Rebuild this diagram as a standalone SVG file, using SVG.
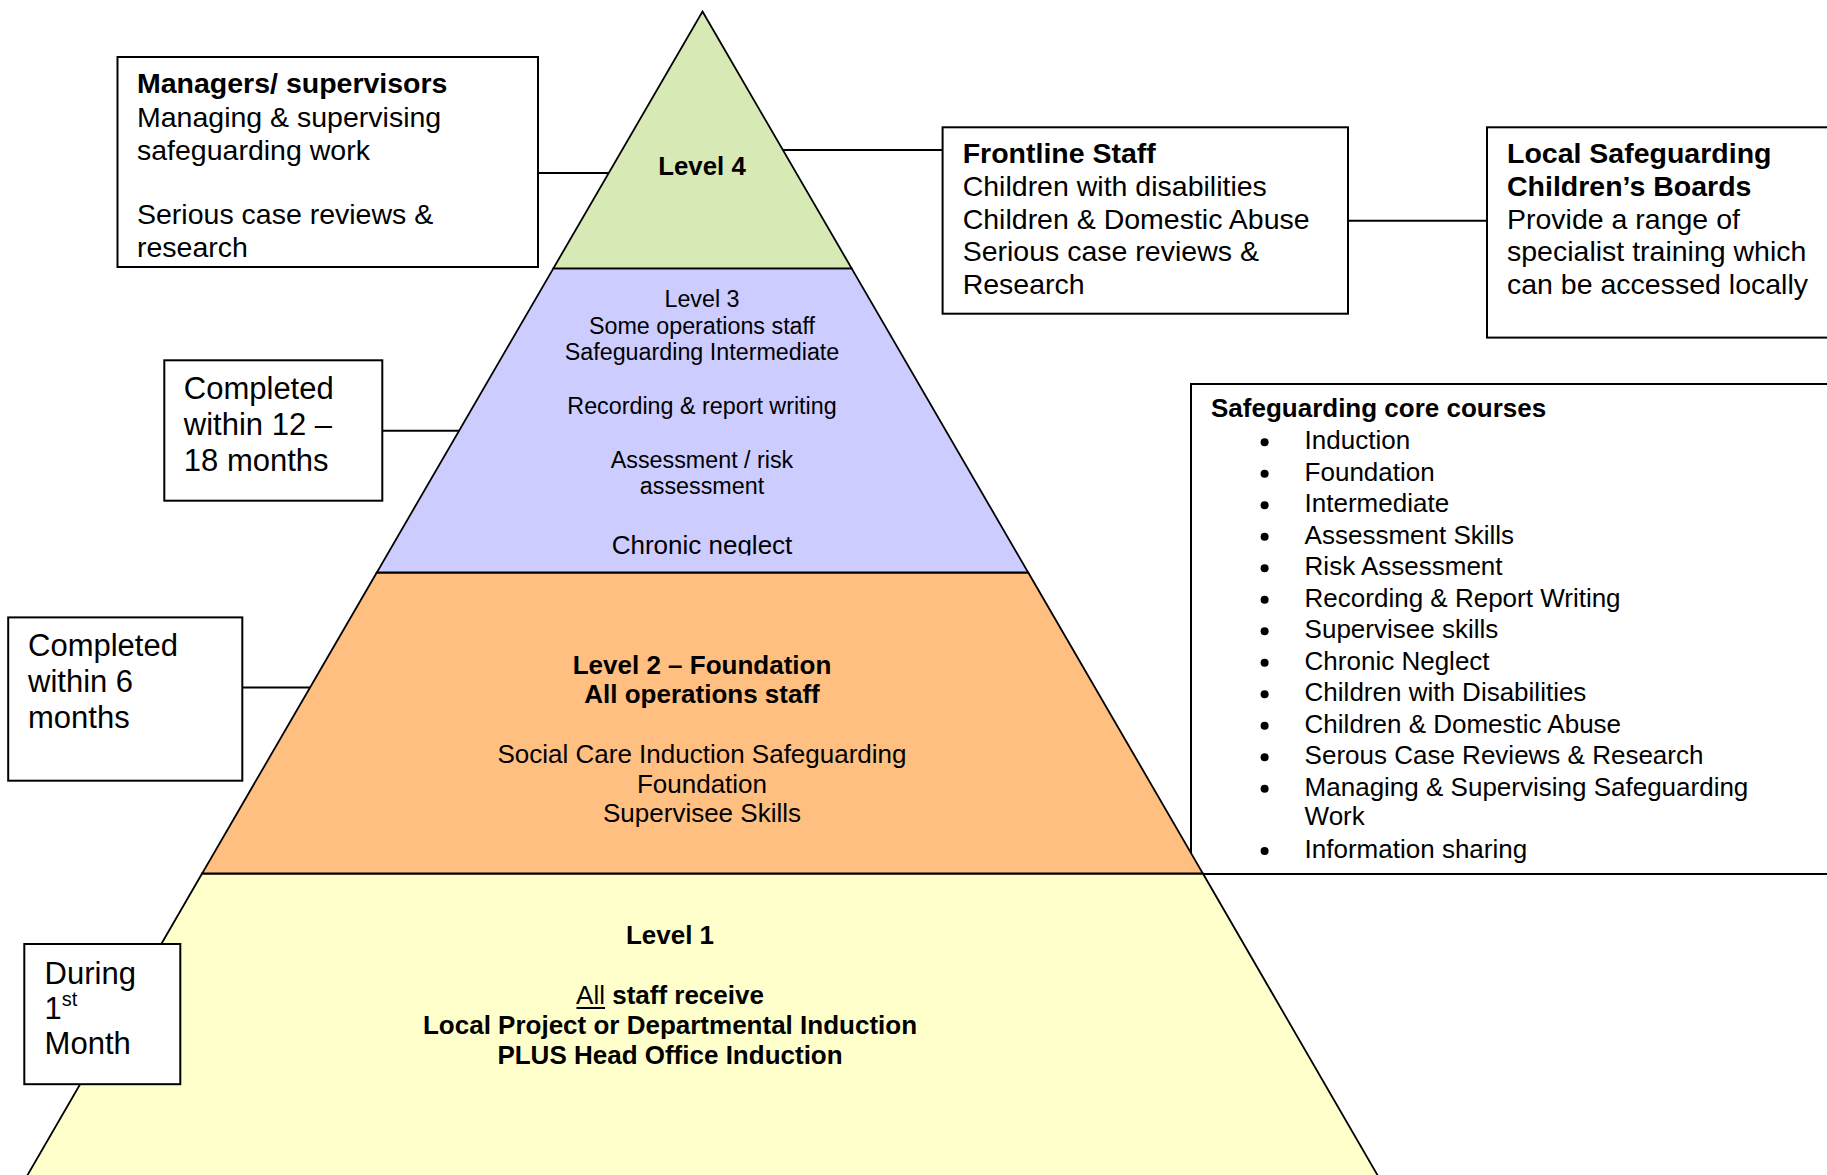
<svg xmlns="http://www.w3.org/2000/svg" width="1827" height="1175" viewBox="0 0 1827 1175">
<style>
text{font-family:"Liberation Sans",Arial,sans-serif;fill:#000}
.b{font-weight:bold}
.f28{font-size:28.5px}
.f31{font-size:31px}
.f26{font-size:26px}
.f23{font-size:23.3px}
.box{fill:#fff;stroke:#000;stroke-width:2}
.edge{stroke:#000;stroke-width:1.8;stroke-linejoin:miter}
.conn{stroke:#000;stroke-width:2;fill:none}
.mid{text-anchor:middle}
</style>
<defs>
<clipPath id="clipMgr"><rect x="117" y="57" width="421" height="202"/></clipPath>
<clipPath id="clipL3"><rect x="370" y="268" width="660" height="287.5"/></clipPath>
</defs>
<rect width="1827" height="1175" fill="#fff"/>

<g id="core-courses-box">
<rect class="box" x="1191" y="384" width="660" height="490"/>
<text class="f26 b" x="1211" y="416.7">Safeguarding core courses</text>
<g fill="#000">
<circle cx="1264.6" cy="442.3" r="4"/>
<circle cx="1264.6" cy="473.8" r="4"/>
<circle cx="1264.6" cy="505.3" r="4"/>
<circle cx="1264.6" cy="536.8" r="4"/>
<circle cx="1264.6" cy="568.3" r="4"/>
<circle cx="1264.6" cy="599.8" r="4"/>
<circle cx="1264.6" cy="631.3" r="4"/>
<circle cx="1264.6" cy="662.8" r="4"/>
<circle cx="1264.6" cy="694.3" r="4"/>
<circle cx="1264.6" cy="725.8" r="4"/>
<circle cx="1264.6" cy="757.3" r="4"/>
<circle cx="1264.6" cy="788.8" r="4"/>
<circle cx="1264.6" cy="851" r="4"/>
</g>
<text class="f26" x="1304.6" y="449.3">Induction</text>
<text class="f26" x="1304.6" y="480.8">Foundation</text>
<text class="f26" x="1304.6" y="512.3">Intermediate</text>
<text class="f26" x="1304.6" y="543.8">Assessment Skills</text>
<text class="f26" x="1304.6" y="575.3">Risk Assessment</text>
<text class="f26" x="1304.6" y="606.8">Recording &amp; Report Writing</text>
<text class="f26" x="1304.6" y="638.3">Supervisee skills</text>
<text class="f26" x="1304.6" y="669.8">Chronic Neglect</text>
<text class="f26" x="1304.6" y="701.3">Children with Disabilities</text>
<text class="f26" x="1304.6" y="732.8">Children &amp; Domestic Abuse</text>
<text class="f26" x="1304.6" y="764.3">Serous Case Reviews &amp; Research</text>
<text class="f26" x="1304.6" y="795.8">Managing &amp; Supervising Safeguarding</text>
<text class="f26" x="1304.6" y="825">Work</text>
<text class="f26" x="1304.6" y="858">Information sharing</text>
</g>

<g id="pyramid">
<polygon id="level1-band" class="edge" fill="#FFFFCC" points="202.1,873.5 1202.9,873.5 1389,1195 16,1195"/>
<polygon id="level2-band" class="edge" fill="#FFBF80" points="376.8,572.5 1028.2,572.5 1202.9,873.5 202.1,873.5"/>
<polygon id="level3-band" class="edge" fill="#CCCCFF" points="553.4,268.3 851.6,268.3 1028.2,572.5 376.8,572.5"/>
<polygon id="level4-band" class="edge" fill="#D7E9B4" points="702.5,11.5 851.6,268.3 553.4,268.3"/>
</g>

<g id="connectors">
<line class="conn" x1="538" y1="173" x2="608.7" y2="173"/>
<line class="conn" x1="782.9" y1="150" x2="942.6" y2="150"/>
<line class="conn" x1="1348" y1="220.7" x2="1487" y2="220.7"/>
<line class="conn" x1="382.3" y1="430.7" x2="459.2" y2="430.7"/>
<line class="conn" x1="242.3" y1="687.5" x2="310.1" y2="687.5"/>
</g>

<g id="level4">
<text class="b mid" x="702" y="175" font-size="25.8px">Level 4</text>
</g>

<g id="level3">
<g clip-path="url(#clipL3)">
<text class="f23 mid" x="702" y="306.7">Level 3</text>
<text class="f23 mid" x="702" y="333.5">Some operations staff</text>
<text class="f23 mid" x="702" y="360.2">Safeguarding Intermediate</text>
<text class="f23 mid" x="702" y="414">Recording &amp; report writing</text>
<text class="f23 mid" x="702" y="467.7">Assessment / risk</text>
<text class="f23 mid" x="702" y="494.3">assessment</text>
<text class="f26 mid" x="702" y="553.5">Chronic neglect</text>
</g>
</g>

<g id="level2">
<text class="f26 b mid" x="702" y="673.7">Level 2 – Foundation</text>
<text class="f26 b mid" x="702" y="703.3">All operations staff</text>
<text class="f26 mid" x="702" y="763">Social Care Induction Safeguarding</text>
<text class="f26 mid" x="702" y="792.6">Foundation</text>
<text class="f26 mid" x="702" y="822.2">Supervisee Skills</text>
</g>

<g id="level1">
<text class="f26 b mid" x="670" y="944.3">Level 1</text>
<text class="f26 mid" x="670" y="1004.3"><tspan>All</tspan><tspan class="b"> staff receive</tspan></text>
<line x1="576.5" y1="1008" x2="605" y2="1008" stroke="#000" stroke-width="2"/>
<text class="f26 b mid" x="670" y="1034.3">Local Project or Departmental Induction</text>
<text class="f26 b mid" x="670" y="1064">PLUS Head Office Induction</text>
</g>

<g id="managers-box">
<rect class="box" x="117.5" y="57" width="420.5" height="210"/>
<g clip-path="url(#clipMgr)">
<text class="f28 b" x="137" y="93.2">Managers/ supervisors</text>
<text class="f28" x="137" y="126.5">Managing &amp; supervising</text>
<text class="f28" x="137" y="159.5">safeguarding work</text>
<text class="f28" x="137" y="223.5">Serious case reviews &amp;</text>
<text class="f28" x="137" y="256.5">research</text>
</g>
</g>

<g id="frontline-box">
<rect class="box" x="942.6" y="127.3" width="405.4" height="186.4"/>
<text class="f28 b" x="962.7" y="163.3">Frontline Staff</text>
<text class="f28" x="962.7" y="196">Children with disabilities</text>
<text class="f28" x="962.7" y="228.5">Children &amp; Domestic Abuse</text>
<text class="f28" x="962.7" y="261">Serious case reviews &amp;</text>
<text class="f28" x="962.7" y="293.5">Research</text>
</g>

<g id="lscb-box">
<rect class="box" x="1487" y="127.3" width="360" height="210.3"/>
<text class="f28 b" x="1507" y="163.3">Local Safeguarding</text>
<text class="f28 b" x="1507" y="196">Children’s Boards</text>
<text class="f28" x="1507" y="228.5">Provide a range of</text>
<text class="f28" x="1507" y="261">specialist training which</text>
<text class="f28" x="1507" y="293.5">can be accessed locally</text>
</g>

<g id="months12-18-box">
<rect class="box" x="164.3" y="360.3" width="218" height="140.4"/>
<text class="f31" x="183.8" y="399.3">Completed</text>
<text class="f31" x="183.8" y="435.2">within 12 –</text>
<text class="f31" x="183.8" y="471">18 months</text>
</g>

<g id="months6-box">
<rect class="box" x="8.2" y="617.4" width="234.1" height="163.3"/>
<text class="f31" x="28" y="656">Completed</text>
<text class="f31" x="28" y="692">within 6</text>
<text class="f31" x="28" y="727.8">months</text>
</g>

<g id="first-month-box">
<rect class="box" x="24.3" y="944" width="156" height="140.2"/>
<text class="f31" x="44.6" y="983.5">During</text>
<text class="f31" x="44.6" y="1018.5">1<tspan font-size="20px" dy="-13">st</tspan></text>
<text class="f31" x="44.6" y="1053.5">Month</text>
</g>
</svg>
